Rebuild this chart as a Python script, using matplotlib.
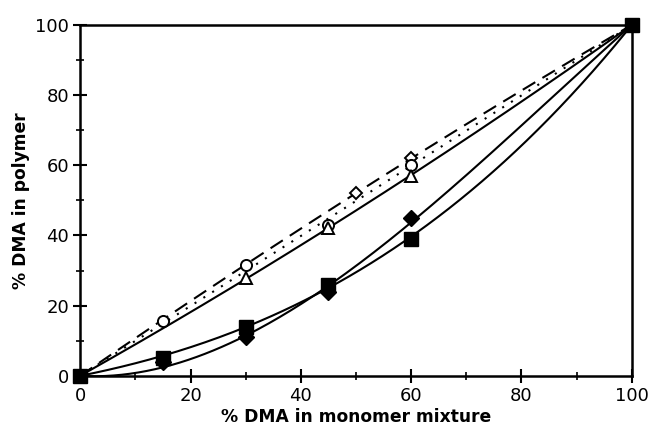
import numpy as np
import matplotlib
matplotlib.use("Agg")
import matplotlib.pyplot as plt

# % DMA in monomer mixture vs % DMA in polymer
x_open_diamond = [50, 60]
y_open_diamond = [52, 62]
x_circle = [15, 30, 45, 60]
y_circle = [15.5, 31.5, 43, 60]
x_triangle = [30, 45, 60]
y_triangle = [28, 42, 57]
x_fill_diamond = [15, 30, 45, 60]
y_fill_diamond = [4, 11, 24, 45]
x_square = [0, 15, 30, 45, 60, 100]
y_square = [0, 5, 14, 26, 39, 100]


def fit_curve(xs, ys, deg):
    # fit through the points, pinned at (0,0) and (100,100)
    xa = np.concatenate([[0, 100], xs])
    ya = np.concatenate([[0, 100], ys])
    w = np.concatenate([[50, 50], np.ones(len(xs))])
    p = np.polyfit(xa, ya, deg, w=w)
    xx = np.linspace(0, 100, 200)
    return xx, np.polyval(p, xx)


fig = plt.figure(figsize=(6.52, 4.3), dpi=100)
ax = fig.add_axes([0.123, 0.126, 0.846, 0.816])

xx, yy = fit_curve(x_open_diamond, y_open_diamond, 2)
ax.plot(xx, yy, color='black', lw=1.5, ls=(0, (7, 4)))
xx, yy = fit_curve(x_circle, y_circle, 2)
ax.plot(xx, yy, color='black', lw=1.5, ls=(0, (1, 4)))
xx, yy = fit_curve(x_triangle, y_triangle, 2)
ax.plot(xx, yy, color='black', lw=1.5)
xx, yy = fit_curve(x_fill_diamond, y_fill_diamond, 3)
ax.plot(xx, yy, color='black', lw=1.5)
xx, yy = fit_curve(x_square[1:-1], y_square[1:-1], 3)
ax.plot(xx, yy, color='black', lw=1.5)

ax.plot(x_open_diamond, y_open_diamond, 'D', ms=6, mfc='white', mec='black', mew=1.4, ls='none')
ax.plot(x_circle, y_circle, 'o', ms=8, mfc='white', mec='black', mew=1.4, ls='none')
ax.plot(x_triangle, y_triangle, '^', ms=8, mfc='white', mec='black', mew=1.4, ls='none')
ax.plot(x_fill_diamond, y_fill_diamond, 'D', ms=8, color='black', ls='none')
ax.plot(x_square, y_square, 's', ms=10, color='black', ls='none', clip_on=False, zorder=5)

ax.set_xlim(0, 100)
ax.set_ylim(0, 100)
ax.set_xticks(range(0, 101, 20))
ax.set_yticks(range(0, 101, 20))
ax.set_xticks(range(10, 100, 20), minor=True)
ax.set_yticks(range(10, 100, 20), minor=True)
ax.tick_params(which='major', direction='inout', length=10, width=1.5, labelsize=13, pad=3)
ax.tick_params(which='minor', direction='inout', length=6, width=1.2)
for s in ax.spines.values():
    s.set_linewidth(1.8)

ax.set_xlabel('% DMA in monomer mixture', fontsize=12.3, fontweight='bold', labelpad=2)
ax.set_ylabel('% DMA in polymer', fontsize=12.3, fontweight='bold', labelpad=4)

fig.savefig('out.png', dpi=100)
